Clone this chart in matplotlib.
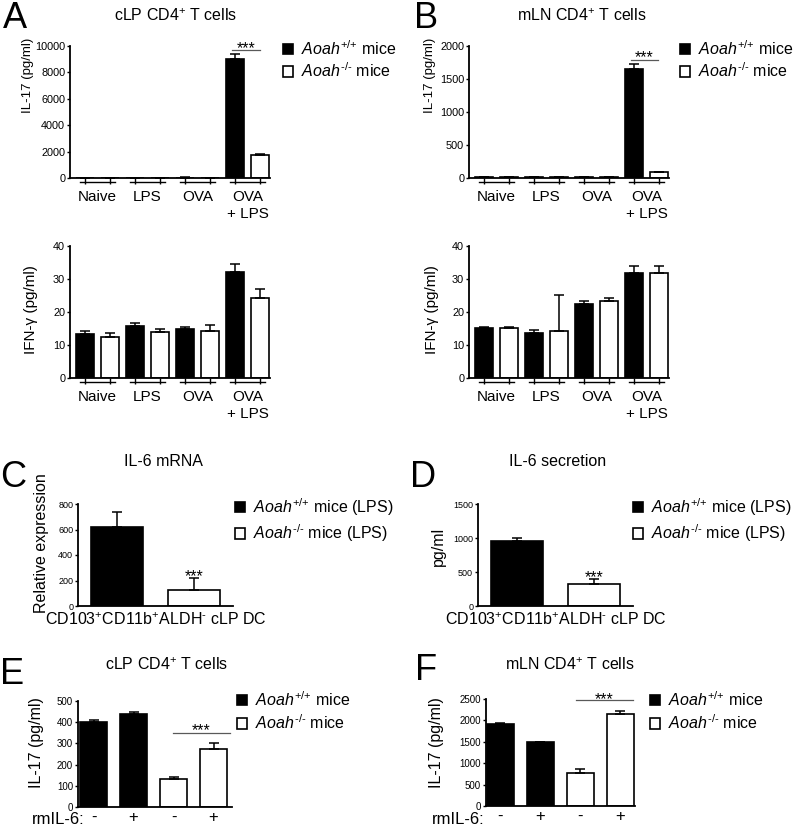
import numpy as np
import matplotlib
import matplotlib.pyplot as plt
from matplotlib.transforms import blended_transform_factory

plt.rcParams['font.family'] = ['Liberation Sans', 'DejaVu Sans']
plt.rcParams['mathtext.fontset'] = 'custom'
plt.rcParams['mathtext.rm'] = 'Liberation Sans'
plt.rcParams['mathtext.it'] = 'Liberation Sans:italic'
plt.rcParams['mathtext.bf'] = 'Liberation Sans:bold'

# DATA
groups = ['Naive', 'LPS', 'OVA', 'OVA\n+ LPS']

a_il17_wt = [15, 10, 30, 9000]
a_il17_wt_err = [5, 5, 10, 390]
a_il17_ko = [10, 10, 25, 1740]
a_il17_ko_err = [5, 5, 10, 90]
a_ifng_wt = [13.3, 15.8, 15.0, 32.0]
a_ifng_wt_err = [1.0, 1.0, 0.5, 2.4]
a_ifng_ko = [12.3, 14.0, 14.2, 24.1]
a_ifng_ko_err = [1.4, 0.8, 1.9, 3.0]

b_il17_wt = [10, 10, 10, 1650]
b_il17_wt_err = [3, 3, 3, 75]
b_il17_ko = [10, 10, 10, 85]
b_il17_ko_err = [3, 3, 3, 8]
b_ifng_wt = [15.2, 13.7, 22.3, 31.7]
b_ifng_wt_err = [0.3, 0.8, 1.0, 2.2]
b_ifng_ko = [15.2, 14.2, 23.3, 31.7]
b_ifng_ko_err = [0.3, 10.9, 1.0, 2.2]

c_mrna = [620, 125]
c_mrna_err = [117, 95]
d_secretion = [956, 323]
d_secretion_err = [44, 74]

rmil6 = ['-', '+', '-', '+']
e_il17 = [401, 439, 132, 274]
e_il17_err = [9, 9, 9, 28]
f_il17 = [1916, 1488, 779, 2150]
f_il17_err = [30, 16, 93, 62]

lab_wt = r'$\it{Aoah}^{\text{+/+}}$ mice'
lab_ko = r'$\it{Aoah}^{\text{-/-}}$ mice'

W, H = 796, 831
fig = plt.figure(figsize=(W / 100, H / 100), dpi=100)


# turn a pixel box (left, top, right, bottom) into figure fractions
def box(l, t, r, b):
    return [l / W, 1 - b / H, (r - l) / W, (b - t) / H]


def fx(x):
    return x / W


def fy(y):
    return 1 - y / H


def styleAxes(ax, tickSize):
    for s in ['top', 'right']:
        ax.spines[s].set_visible(False)
    for s in ['left', 'bottom']:
        ax.spines[s].set_linewidth(1.3)
    ax.tick_params(axis='y', direction='out', length=2.5, width=1, labelsize=tickSize, pad=1)


def drawBars(ax, x, vals, errs, color, width):
    bars = ax.bar(x, vals, width=width, color=color, edgecolor='black', linewidth=1.2, zorder=2)
    ax.errorbar(x, vals, yerr=[np.zeros(len(errs)), errs], fmt='none', ecolor='black',
                elinewidth=1.1, capsize=3.5, capthick=1.1, zorder=3)
    return bars


def pairedPanel(ax, wt, wtErr, ko, koErr, ymax, ystep):
    x = np.arange(len(wt))
    bw = drawBars(ax, 2 * x, wt, wtErr, 'black', 0.7)
    bk = drawBars(ax, 2 * x + 1, ko, koErr, 'white', 0.7)
    ax.set_xlim(-0.6, 7.4)
    ax.set_ylim(0, ymax)
    ax.set_yticks(np.arange(0, ymax + 1, ystep))
    ax.set_xticks(np.arange(2 * len(wt)))
    ax.set_xticklabels([])
    styleAxes(ax, 7.8)
    ax.tick_params(axis='x', direction='out', length=4, width=1)
    trans = blended_transform_factory(ax.transData, ax.transAxes)
    for i, lab in enumerate(groups):
        c = 2 * i + 0.5
        ax.plot([c - 0.7, c + 0.7], [-0.032, -0.032], color='black', lw=1, transform=trans, clip_on=False)
        ax.text(c, -0.09, lab, transform=trans, ha='center', va='top', fontsize=11, linespacing=1.25)
    return bw, bk


def stars(ax, xc, y, dy):
    ax.annotate('***', xy=(xc, y), xytext=(0, dy), textcoords='offset points',
                ha='center', va='baseline', fontsize=11.5, annotation_clip=False)


def sigLine(ax, x0, x1, y, dy):
    ax.plot([x0, x1], [y, y], color='0.35', lw=0.9, clip_on=False)
    stars(ax, (x0 + x1) / 2, y, dy)


def legend(ax, handles, labels, x, y, size, spacing):
    ax.legend(handles, labels, loc='upper left', bbox_to_anchor=(fx(x), fy(y)),
              bbox_transform=fig.transFigure, frameon=False, borderpad=0, borderaxespad=0,
              handlelength=0.65, handleheight=0.65, handletextpad=0.45,
              labelspacing=spacing, fontsize=size)


# panel A
axA1 = fig.add_axes(box(70, 46, 270, 178))
bw, bk = pairedPanel(axA1, a_il17_wt, a_il17_wt_err, a_il17_ko, a_il17_ko_err, 10000, 2000)
sigLine(axA1, 5.88, 7.0, 9700, -2.5)
legend(axA1, [bw, bk], [lab_wt, lab_ko], 283, 39, 11.5, 0.25)

axA2 = fig.add_axes(box(70, 246, 270, 378))
pairedPanel(axA2, a_ifng_wt, a_ifng_wt_err, a_ifng_ko, a_ifng_ko_err, 40, 10)

# panel B
axB1 = fig.add_axes(box(469, 46, 669, 178))
bw, bk = pairedPanel(axB1, b_il17_wt, b_il17_wt_err, b_il17_ko, b_il17_ko_err, 2000, 500)
sigLine(axB1, 5.88, 6.96, 1790, -1.5)
legend(axB1, [bw, bk], [lab_wt, lab_ko], 680, 39, 11.5, 0.25)

axB2 = fig.add_axes(box(469, 246, 669, 378))
pairedPanel(axB2, b_ifng_wt, b_ifng_wt_err, b_ifng_ko, b_ifng_ko_err, 40, 10)


# panels C and D
def dcPanel(ax, vals, errs, ymax, ystep):
    bw = drawBars(ax, [0], vals[:1], errs[:1], 'black', 0.675)
    bk = drawBars(ax, [1], vals[1:], errs[1:], 'white', 0.675)
    ax.set_xlim(-0.5, 1.5)
    ax.set_ylim(0, ymax)
    ax.set_yticks(np.arange(0, ymax + 1, ystep))
    ax.set_xticks([])
    styleAxes(ax, 6.5)
    ax.set_xlabel(r'CD103$^{\text{+}}$CD11b$^{\text{+}}$ALDH$^{\text{-}}$ cLP DC', fontsize=11.5, labelpad=4)
    stars(ax, 1, vals[1] + errs[1], -2)
    return bw, bk


axC = fig.add_axes(box(78, 504, 233, 606))
bw, bk = dcPanel(axC, c_mrna, c_mrna_err, 800, 200)
legend(axC, [bw, bk], [lab_wt + ' (LPS)', lab_ko + ' (LPS)'], 235, 496, 11.5, 0.3)

axD = fig.add_axes(box(478, 504, 633, 606))
bw, bk = dcPanel(axD, d_secretion, d_secretion_err, 1500, 500)
legend(axD, [bw, bk], [lab_wt + ' (LPS)', lab_ko + ' (LPS)'], 633, 496, 11.5, 0.3)


# panels E and F
def rmPanel(ax, vals, errs, ymax, ystep, xl, xr):
    x = np.arange(len(vals))
    bw = drawBars(ax, x[:2], vals[:2], errs[:2], 'black', 0.675)
    bk = drawBars(ax, x[2:], vals[2:], errs[2:], 'white', 0.675)
    ax.set_xlim(xl, xr)
    ax.set_ylim(0, ymax)
    ax.set_yticks(np.arange(0, ymax + 1, ystep))
    ax.set_xticks(x)
    ax.set_xticklabels(rmil6, fontsize=12)
    styleAxes(ax, 7)
    ax.tick_params(axis='x', length=0, pad=2)
    return bw, bk


axE = fig.add_axes(box(78, 701, 232, 807))
bw, bk = rmPanel(axE, e_il17, e_il17_err, 500, 100, -0.39, 3.46)
sigLine(axE, 1.98, 3.4, 349, -1.5)
legend(axE, [bw, bk], [lab_wt, lab_ko], 237, 690, 11.5, 0.3)

axF = fig.add_axes(box(486, 699, 635, 806))
bw, bk = rmPanel(axF, f_il17, f_il17_err, 2500, 500, -0.36, 3.37)
sigLine(axF, 1.89, 3.31, 2477, -3)
legend(axF, [bw, bk], [lab_wt, lab_ko], 650, 690, 11.5, 0.3)

# panel letters
for letter, x, y in [('A', 15, 19), ('B', 426, 19), ('C', 13, 477), ('D', 423, 477), ('E', 12, 675), ('F', 426, 670)]:
    fig.text(fx(x), fy(y), letter, fontsize=26, ha='center', va='center')

# titles
titles = [(r'cLP CD4$^{\text{+}}$ T cells', 176, 16), (r'mLN CD4$^{\text{+}}$ T cells', 582, 16),
          ('IL-6 mRNA', 163, 462), ('IL-6 secretion', 558, 462),
          (r'cLP CD4$^{\text{+}}$ T cells', 167, 665), (r'mLN CD4$^{\text{+}}$ T cells', 570, 665)]
for t, x, y in titles:
    fig.text(fx(x), fy(y), t, fontsize=11.5, ha='center', va='center')

# y labels
ylabels = [('IL-17 (pg/ml)', 28, 75, 9.5), ('IFN-γ (pg/ml)', 31, 310, 11),
           ('IL-17 (pg/ml)', 430, 75, 9.5), ('IFN-γ (pg/ml)', 432, 310, 11),
           ('Relative expression', 42, 543, 11.5), ('pg/ml', 438, 546, 11.5),
           ('IL-17 (pg/ml)', 37, 743, 11.5), ('IL-17 (pg/ml)', 436, 743, 11.5)]
for t, x, y, s in ylabels:
    fig.text(fx(x), fy(y), t, fontsize=s, rotation=90, ha='center', va='center')

fig.text(fx(32), fy(819), 'rmIL-6:', fontsize=12, ha='left', va='center')
fig.text(fx(432), fy(819), 'rmIL-6:', fontsize=12, ha='left', va='center')

fig.savefig('out.png', dpi=100)
